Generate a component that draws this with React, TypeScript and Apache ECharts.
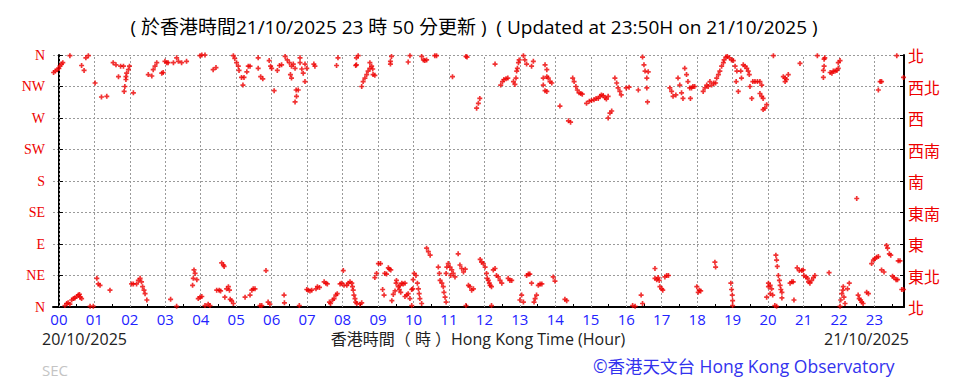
import React, { useEffect, useRef } from "react";
import * as echarts from "echarts";

// Hour tick labels on the time axis
const hourTicks: number[] = [0, 1, 2, 3, 4, 5, 6, 7, 8, 9, 10, 11, 12, 13, 14, 15, 16, 17, 18, 19, 20, 21, 22, 23];
const halfHourTicks: number[] = [0.5, 1.5, 2.5, 3.5, 4.5, 5.5, 6.5, 7.5, 8.5, 9.5, 10.5, 11.5, 12.5, 13.5, 14.5, 15.5, 16.5, 17.5, 18.5, 19.5, 20.5, 21.5, 22.5, 23.5];
// Direction labels from 0 (N, bottom) to 360 (N, top)
const leftLabels: string[] = ["N", "NE", "E", "SE", "S", "SW", "W", "NW", "N"];
const rightLabels: string[] = ["北", "東北", "東", "東南", "南", "西南", "西", "西北", "北"];

// [hour, wind direction in degrees]
const night00to06: [number, number][] = [
  [-0.15, 335], [-0.1, 337], [-0.05, 339], [0.0, 341], [0.03, 344], [0.07, 347], [0.11, 349],
  [0.31, 359], [0.64, 345], [0.71, 338], [0.76, 356], [0.83, 359],
  [1.02, 320], [1.2, 300], [1.35, 301],
  [1.53, 349], [1.61, 346], [1.68, 329], [1.74, 344], [1.82, 344],
  [1.89, 329], [1.91, 334], [1.96, 339], [1.99, 344], [1.86, 315], [1.84, 308], [1.89, 325],
  [2.1, 306],
  [2.52, 332], [2.62, 330], [2.66, 339], [2.71, 344], [2.76, 349],
  [2.9, 334], [2.94, 335], [2.99, 351], [3.04, 349], [3.08, 349],
  [3.23, 349], [3.32, 356], [3.37, 351], [3.46, 349], [3.6, 351], [3.98, 359],
  [4.03, 360], [4.12, 360], [4.35, 339], [4.43, 342],
  [4.92, 359], [4.96, 355], [5.01, 349], [5.06, 344], [5.08, 338],
  [5.15, 328], [5.22, 328], [5.19, 317],
  [5.3, 336], [5.34, 344], [5.39, 344],
  [5.62, 356], [5.62, 341], [5.69, 329], [5.75, 326],
  [5.93, 352], [5.97, 344],
  [0.17, 2], [0.22, 5], [0.26, 6], [0.31, 4], [0.36, 10], [0.41, 12], [0.45, 13], [0.5, 15], [0.55, 17], [0.6, 14], [0.64, 12], [0.58, 18],
  [0.88, 1], [0.97, 1], [1.07, 41], [1.11, 33], [1.16, 31], [1.44, 24],
  [2.05, 33], [2.1, 33], [2.19, 33], [2.24, 38], [2.29, 41], [2.33, 36], [2.36, 29], [2.4, 24], [2.43, 19], [2.48, 10],
  [3.15, 11], [3.32, 1],
  [3.77, 31], [3.79, 41], [3.81, 53], [3.84, 48], [3.89, 39], [3.93, 12], [3.98, 14], [4.03, 15],
  [4.12, 2], [4.21, 4], [4.26, 2], [4.45, 24], [4.52, 24], [4.56, 23], [4.59, 63], [4.64, 60], [4.66, 58],
  [4.68, 14], [4.73, 26], [4.78, 29], [4.81, 24], [4.83, 11], [4.87, 9], [4.92, 5],
  [5.25, 14], [5.39, 17], [5.44, 24], [5.48, 26], [5.53, 26], [5.67, 2], [5.72, 2], [5.84, 52], [5.9, 7], [5.95, 4],
];

const morning06to12: [number, number][] = [
  [6.0, 341], [6.07, 309],
  [6.16, 338], [6.22, 345], [6.28, 346],
  [6.38, 358], [6.44, 353], [6.5, 349], [6.56, 344], [6.61, 347], [6.53, 332], [6.56, 327],
  [6.66, 341], [6.69, 310], [6.7, 301], [6.66, 293], [6.75, 310],
  [6.8, 356], [6.8, 349], [6.85, 340], [6.89, 334], [6.94, 322], [6.94, 347], [6.99, 341],
  [7.19, 347], [7.22, 344], [7.83, 345], [7.87, 356],
  [8.39, 356], [8.44, 359], [8.39, 346], [8.37, 345],
  [8.54, 315], [8.58, 322], [8.63, 327], [8.68, 332], [8.72, 337], [8.77, 341],
  [8.77, 349], [8.82, 344], [8.85, 340], [8.86, 332], [8.91, 331],
  [9.38, 358], [9.35, 351], [9.35, 347], [9.85, 350], [9.9, 359],
  [10.23, 358], [10.28, 353], [10.32, 352], [10.37, 353], [10.6, 359], [10.65, 359],
  [11.1, 329], [11.48, 358], [11.51, 357], [11.78, 284], [11.83, 291], [11.87, 298],
  [6.35, 17], [6.36, 6], [6.78, 2], [6.99, 25], [7.03, 24], [7.08, 23], [7.13, 24],
  [7.25, 26], [7.29, 29], [7.35, 28], [7.48, 36], [7.53, 34], [7.57, 33],
  [7.63, 7], [7.66, 5], [7.72, 10], [7.76, 12], [7.81, 17], [7.85, 19],
  [7.93, 33], [7.97, 34], [8.02, 52], [8.04, 31],
  [8.12, 31], [8.16, 34], [8.21, 36], [8.26, 34], [8.28, 29], [8.3, 24], [8.32, 17], [8.35, 12], [8.37, 7], [8.4, 5],
  [8.49, 4], [8.54, 6],
  [8.91, 42], [8.96, 48], [9.01, 62], [9.07, 62], [9.13, 25], [9.17, 17],
  [9.19, 48], [9.24, 47], [9.29, 56], [9.32, 54], [9.36, 53],
  [9.39, 9], [9.43, 18], [9.48, 23], [9.51, 34], [9.52, 38],
  [9.57, 29], [9.62, 31], [9.67, 34], [9.71, 33], [9.76, 34],
  [9.6, 25], [9.64, 21], [9.76, 15], [9.81, 17], [9.85, 19], [9.9, 12], [9.95, 25], [9.98, 26],
  [9.99, 39], [10.02, 48], [10.07, 45], [10.11, 34], [10.14, 26], [10.16, 19], [10.18, 12], [10.23, 5], [9.95, 2],
  [10.37, 84], [10.42, 79], [10.47, 74],
  [10.7, 57], [10.73, 48], [10.75, 38], [10.8, 34], [10.84, 29], [10.86, 21], [10.89, 14], [10.92, 7],
  [10.92, 48], [10.94, 57], [10.98, 62], [11.03, 57], [11.08, 53], [11.05, 45], [11.12, 48], [11.17, 43],
  [11.26, 76], [11.31, 60], [11.36, 55], [11.41, 50], [11.46, 54], [11.48, 2],
  [11.55, 31], [11.59, 29], [11.64, 24], [11.69, 26],
  [11.88, 68], [11.92, 64], [11.97, 62],
];

const afternoon12to18: [number, number][] = [
  [12.3, 347], [12.46, 317], [12.51, 322], [12.55, 325], [12.61, 326], [12.66, 327],
  [12.82, 322], [12.86, 318], [12.89, 327], [12.91, 337], [12.93, 341], [12.96, 349], [12.98, 353],
  [13.1, 359], [13.14, 353], [13.19, 347], [13.33, 344], [13.38, 351],
  [13.71, 346], [13.76, 339], [13.76, 329], [13.8, 327], [13.85, 322], [13.9, 320],
  [13.66, 327], [13.66, 317], [13.71, 309], [13.76, 308],
  [14.13, 287], [14.37, 266], [14.43, 264],
  [14.49, 327], [14.53, 322], [14.58, 315], [14.62, 310], [14.67, 306], [14.72, 305], [14.76, 304],
  [14.88, 291], [14.96, 294], [15.02, 295], [15.09, 296], [15.15, 298], [15.21, 298], [15.26, 301], [15.3, 303],
  [15.35, 302], [15.4, 299], [15.44, 297], [15.49, 301],
  [15.49, 270], [15.54, 277], [15.59, 280],
  [15.68, 327], [15.73, 320], [15.77, 313], [15.82, 308], [15.86, 303],
  [16.0, 313], [16.08, 314],
  [16.34, 310], [16.46, 357], [16.5, 346], [16.53, 337], [16.58, 327], [16.62, 336], [16.58, 313], [16.6, 293],
  [17.23, 313], [17.28, 308], [17.32, 301], [17.4, 303], [17.46, 327], [17.51, 317], [17.56, 306], [17.6, 298],
  [17.65, 341], [17.7, 332], [17.74, 322], [17.79, 313], [17.81, 298], [17.84, 313], [17.88, 315], [17.93, 315],
  [12.02, 57], [12.06, 48], [12.08, 41], [12.11, 38], [12.14, 34], [12.16, 31], [12.2, 29], [12.2, 2],
  [12.25, 53], [12.3, 55], [12.34, 45], [12.39, 43], [12.44, 38], [12.49, 34],
  [12.67, 41], [12.72, 38], [12.77, 38],
  [13.0, 10], [13.05, 17], [13.1, 7],
  [13.19, 45], [13.24, 47], [13.28, 47], [13.33, 34],
  [13.4, 7], [13.43, 12], [13.47, 17],
  [13.52, 31], [13.57, 33], [13.62, 33],
  [13.94, 43], [13.99, 37], [14.27, 11], [14.32, 9],
  [16.18, 2], [16.25, 1], [16.42, 17], [16.46, 5],
  [16.81, 55], [16.81, 41], [16.86, 39], [16.9, 42], [16.93, 38],
  [16.95, 29], [17.0, 26], [17.03, 24],
  [17.09, 43], [17.14, 45], [17.19, 45],
  [17.99, 29],
];

const evening18to24: [number, number][] = [
  [18.17, 308], [18.22, 313], [18.27, 317], [18.31, 315], [18.36, 322], [18.41, 317], [18.47, 320], [18.52, 320],
  [18.55, 327], [18.6, 332], [18.64, 337], [18.69, 344], [18.74, 349], [18.76, 353], [18.81, 357], [18.85, 358],
  [18.91, 356], [18.97, 353], [19.02, 352],
  [19.07, 344], [19.12, 337], [19.1, 322], [19.16, 308],
  [19.23, 337], [19.25, 327], [19.3, 346], [19.35, 344], [19.4, 341], [19.44, 337], [19.47, 332], [19.49, 315],
  [19.54, 298], [19.57, 322], [19.63, 322], [19.7, 322], [19.77, 322], [19.82, 317], [19.77, 305], [19.82, 301],
  [19.86, 298], [19.91, 284], [19.86, 282], [19.96, 289],
  [20.15, 359], [20.43, 329], [20.48, 327], [20.52, 325], [20.57, 332], [20.48, 322], [20.9, 348],
  [21.39, 359], [21.58, 354], [21.6, 356], [21.58, 344], [21.56, 338], [21.56, 328],
  [21.75, 335], [21.8, 334], [21.84, 337], [21.89, 337], [21.94, 338], [21.98, 341], [21.98, 349], [22.03, 352],
  [23.11, 310], [23.16, 322], [23.2, 322], [23.63, 359], [23.82, 328],
  [18.03, 21], [18.06, 24], [18.1, 23],
  [18.5, 64], [18.52, 57],
  [18.95, 34], [18.97, 25], [18.99, 17], [19.0, 9], [19.0, 2],
  [19.96, 14], [20.01, 29], [20.06, 31], [20.1, 26], [20.13, 17], [20.06, 19], [20.01, 34],
  [20.19, 2], [20.24, 1],
  [20.22, 74], [20.24, 67], [20.26, 58], [20.29, 45], [20.32, 38], [20.34, 31], [20.36, 25], [20.39, 21], [20.39, 13],
  [20.62, 34], [20.67, 36], [20.71, 36], [20.73, 10],
  [20.82, 56], [20.88, 52], [20.95, 52], [20.99, 53], [21.01, 45],
  [21.07, 43], [21.11, 41], [21.14, 36], [21.18, 34], [21.23, 38], [21.28, 42], [21.32, 45],
  [21.72, 49],
  [22.03, 1], [22.05, 10], [22.08, 19], [22.11, 24], [22.12, 29], [22.14, 14], [22.17, 5], [22.24, 26], [22.29, 34],
  [22.5, 155],
  [22.54, 17], [22.57, 12], [22.61, 10], [22.64, 7], [22.68, 5],
  [22.78, 21], [22.83, 19],
  [22.92, 62], [22.97, 67], [23.01, 69], [23.06, 71], [23.11, 72],
  [23.2, 53], [23.27, 50],
  [23.34, 88], [23.37, 84], [23.42, 76], [23.46, 74],
  [23.51, 44], [23.55, 42], [23.61, 39], [23.65, 39],
  [23.67, 66], [23.72, 66],
  [23.77, 25], [23.82, 25],
];

const X_MIN = -1 / 6;
const X_MAX = 23 + 5 / 6;
const RED = "#ee0000";
const GRID_GREY = "#9a9a9a";
const PLUS = "path://M2,0H4V2H6V4H4V6H2V4H0V2H2Z";

export default function App() {
  const ref = useRef<HTMLDivElement>(null);

  useEffect(() => {
    document.body.style.margin = "0";
    if (!ref.current) return;
    const chart = echarts.init(ref.current, null, { renderer: "svg" });
    const sansFont = "'Open Sans', 'Noto Sans CJK TC', sans-serif";
    const scatter = (name: string, data: [number, number][]) => ({
      name,
      type: "scatter",
      data,
      symbol: PLUS,
      symbolSize: 5,
      itemStyle: { color: RED },
      z: 5,
      silent: true,
    });
    chart.setOption({
      animation: false,
      backgroundColor: "#ffffff",
      grid: { left: 53, right: 60, top: 55, bottom: 74, containLabel: false },
      xAxis: {
        type: "value",
        min: X_MIN,
        max: X_MAX,
        axisLine: { show: true, onZero: false, lineStyle: { color: "#000", width: 2 } },
        axisTick: { show: true, inside: true, length: 3, customValues: halfHourTicks, lineStyle: { color: "#000" } },
        axisLabel: {
          show: true,
          customValues: hourTicks,
          formatter: (v: number) => String(Math.round(v)).padStart(2, "0"),
          color: "#2222ff",
          fontSize: 15,
          fontFamily: sansFont,
          margin: 4,
        },
        splitLine: { show: false },
      },
      yAxis: [
        {
          type: "value",
          min: 0,
          max: 360,
          interval: 45,
          position: "left",
          axisLine: { show: true, lineStyle: { color: "#000", width: 2 } },
          axisTick: { show: true, inside: true, length: 4, lineStyle: { color: "#000" } },
          axisLabel: {
            formatter: (v: number) => leftLabels[Math.round(v / 45)],
            color: RED,
            fontSize: 14,
            fontFamily: "'Liberation Serif', serif",
            margin: 8,
          },
          splitLine: { show: true, lineStyle: { color: GRID_GREY, type: [2, 2], width: 1 } },
        },
        {
          type: "value",
          min: 0,
          max: 360,
          interval: 45,
          position: "right",
          axisLine: { show: true, lineStyle: { color: "#000", width: 2 } },
          axisTick: { show: true, inside: true, length: 4, lineStyle: { color: "#000" } },
          axisLabel: {
            formatter: (v: number) => rightLabels[Math.round(v / 45)],
            color: RED,
            fontSize: 16,
            fontFamily: "'Noto Sans CJK TC', sans-serif",
            margin: 4,
          },
          splitLine: { show: false },
        },
      ],
      series: [
        {
          name: "hourGrid",
          type: "scatter",
          data: [],
          silent: true,
          z: 1,
          markLine: {
            silent: true,
            symbol: ["none", "none"],
            label: { show: false },
            animation: false,
            lineStyle: { color: GRID_GREY, type: [2, 2], width: 1 },
            emphasis: { disabled: true },
            data: hourTicks.map((h) => ({ xAxis: h })),
          },
        },
        scatter("00-06", night00to06),
        scatter("06-12", morning06to12),
        scatter("12-18", afternoon12to18),
        scatter("18-24", evening18to24),
      ],
      graphic: [
        {
          type: "text",
          x: 474,
          y: 27,
          style: {
            text: "( 於香港時間21/10/2025 23 時 50 分更新 )  ( Updated at 23:50H on 21/10/2025 )",
            fill: "#000",
            font: `19px ${sansFont}`,
            textAlign: "center",
            textVerticalAlign: "middle",
          },
        },
        {
          type: "text",
          x: 42,
          y: 339,
          style: { text: "20/10/2025", fill: "#222", font: `16px ${sansFont}`, textAlign: "left", textVerticalAlign: "middle" },
        },
        {
          type: "text",
          x: 909,
          y: 339,
          style: { text: "21/10/2025", fill: "#222", font: `16px ${sansFont}`, textAlign: "right", textVerticalAlign: "middle" },
        },
        {
          type: "text",
          x: 478,
          y: 339,
          style: {
            text: "香港時間（ 時 ）Hong Kong Time (Hour)",
            fill: "#222",
            font: `16px ${sansFont}`,
            textAlign: "center",
            textVerticalAlign: "middle",
          },
        },
        {
          type: "text",
          x: 42,
          y: 370,
          style: { text: "SEC", fill: "#c4c4c4", font: `15px ${sansFont}`, textAlign: "left", textVerticalAlign: "middle" },
        },
        {
          type: "text",
          x: 593,
          y: 366,
          style: {
            text: "©香港天文台 Hong Kong Observatory",
            fill: "#3333ee",
            font: `17.5px ${sansFont}`,
            textAlign: "left",
            textVerticalAlign: "middle",
          },
        },
      ],
    });
    return () => chart.dispose();
  }, []);

  return <div ref={ref} style={{ width: 964, height: 381 }} />;
}
